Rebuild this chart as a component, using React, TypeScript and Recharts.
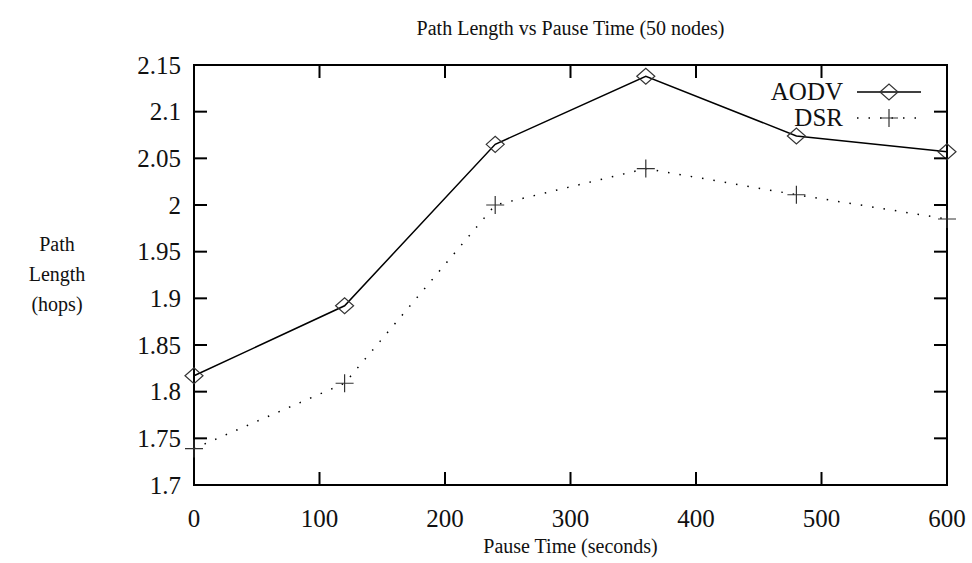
import React from 'react';
import {
  LineChart,
  Line,
  XAxis,
  YAxis,
  ReferenceArea
} from 'recharts';

const pauseTimes = [0, 120, 240, 360, 480, 600];
const aodvHops = [1.817, 1.892, 2.065, 2.138, 2.074, 2.057];
const dsrHops = [1.739, 1.809, 2.0, 2.039, 2.011, 1.985];
const xTicks = [0, 100, 200, 300, 400, 500, 600];
const yTicks = [1.7, 1.75, 1.8, 1.85, 1.9, 1.95, 2, 2.05, 2.1, 2.15];

const data = pauseTimes.map((t, i) => ({ t, aodv: aodvHops[i], dsr: dsrHops[i] }));

// plot box edges, used for the inward gnuplot-style ticks
const LEFT = 194;
const RIGHT = 947;
const TOP = 65;
const BOTTOM = 485;
const TICK = 13;

const FONT = '"Liberation Serif", "DejaVu Serif", serif';

const Diamond = ({ cx, cy }: any) => (
  <path
    d={`M${cx - 9},${cy} L${cx},${cy - 8} L${cx + 9},${cy} L${cx},${cy + 8} Z`}
    fill="none"
    stroke="#333"
    strokeWidth={1.2}
  />
);

const Plus = ({ cx, cy }: any) => (
  <path
    d={`M${cx - 9},${cy} L${cx + 9},${cy} M${cx},${cy - 9} L${cx},${cy + 9}`}
    fill="none"
    stroke="#333"
    strokeWidth={1.2}
  />
);

const YTick = ({ y, payload }: any) => (
  <g>
    <line x1={LEFT} x2={LEFT + TICK} y1={y} y2={y} stroke="#000" strokeWidth={2} />
    <line x1={RIGHT - TICK} x2={RIGHT} y1={y} y2={y} stroke="#000" strokeWidth={2} />
    <text x={LEFT - 13} y={y} textAnchor="end" dominantBaseline="central" fontFamily={FONT} fontSize={25} fill="#111">
      {String(Math.round(payload.value * 100) / 100)}
    </text>
  </g>
);

const XTick = ({ x, payload }: any) => (
  <g>
    <line x1={x} x2={x} y1={BOTTOM} y2={BOTTOM - TICK} stroke="#000" strokeWidth={2} />
    <line x1={x} x2={x} y1={TOP} y2={TOP + TICK} stroke="#000" strokeWidth={2} />
    <text x={x} y={518} textAnchor="middle" dominantBaseline="central" fontFamily={FONT} fontSize={25} fill="#111">
      {payload.value}
    </text>
  </g>
);

const legendRows = [
  { name: 'AODV', dash: undefined, Marker: Diamond },
  { name: 'DSR', dash: '1.5 10', Marker: Plus }
];

const LegendBox = () => (
  <div style={{ position: 'absolute', left: 760, top: 79, fontFamily: FONT, fontSize: 25, color: '#111' }}>
    {legendRows.map((r) => (
      <div key={r.name} style={{ display: 'flex', alignItems: 'center', height: 26 }}>
        <div style={{ width: 83, textAlign: 'right' }}>{r.name}</div>
        <svg width={78} height={26} style={{ marginLeft: 14 }}>
          <line x1={0} x2={64} y1={13} y2={13} stroke="#000" strokeWidth={1.5} strokeDasharray={r.dash} />
          <r.Marker cx={32} cy={13} />
        </svg>
      </div>
    ))}
  </div>
);

const textStyle = { position: 'absolute' as const, textAlign: 'center' as const, fontFamily: FONT, fontSize: 20, color: '#111' };

export default function App() {
  return (
    <div style={{ position: 'absolute', left: 0, top: 0, width: 972, height: 563, background: '#fff' }}>
      <div style={{ ...textStyle, left: 0, width: 1141, top: 17 }}>
        Path Length vs Pause Time (50 nodes)
      </div>
      <div style={{ ...textStyle, left: 0, width: 114, top: 229, lineHeight: '30px' }}>
        Path
        <br />
        Length
        <br />
        (hops)
      </div>
      <div style={{ ...textStyle, left: 0, width: 1141, top: 535 }}>
        Pause Time (seconds)
      </div>
      <LineChart
        width={972}
        height={563}
        data={data}
        margin={{ top: TOP, right: 972 - RIGHT, bottom: 563 - BOTTOM - 40, left: LEFT - 60 }}
      >
        <XAxis
          dataKey="t"
          type="number"
          domain={[0, 600]}
          ticks={xTicks}
          height={40}
          axisLine={false}
          tickLine={false}
          tick={<XTick />}
          interval={0}
        />
        <YAxis
          type="number"
          domain={[1.7, 2.15]}
          ticks={yTicks}
          width={60}
          axisLine={false}
          tickLine={false}
          tick={<YTick />}
          interval={0}
        />
        <ReferenceArea x1={0} x2={600} y1={1.7} y2={2.15} fill="none" stroke="#000" strokeWidth={2} fillOpacity={0} />
        <Line
          type="linear"
          dataKey="dsr"
          name="DSR"
          stroke="#000"
          strokeWidth={1.5}
          strokeDasharray="1.5 10"
          dot={<Plus />}
          activeDot={false}
          isAnimationActive={false}
        />
        <Line
          type="linear"
          dataKey="aodv"
          name="AODV"
          stroke="#000"
          strokeWidth={1.5}
          dot={<Diamond />}
          activeDot={false}
          isAnimationActive={false}
        />
      </LineChart>
      <LegendBox />
    </div>
  );
}
